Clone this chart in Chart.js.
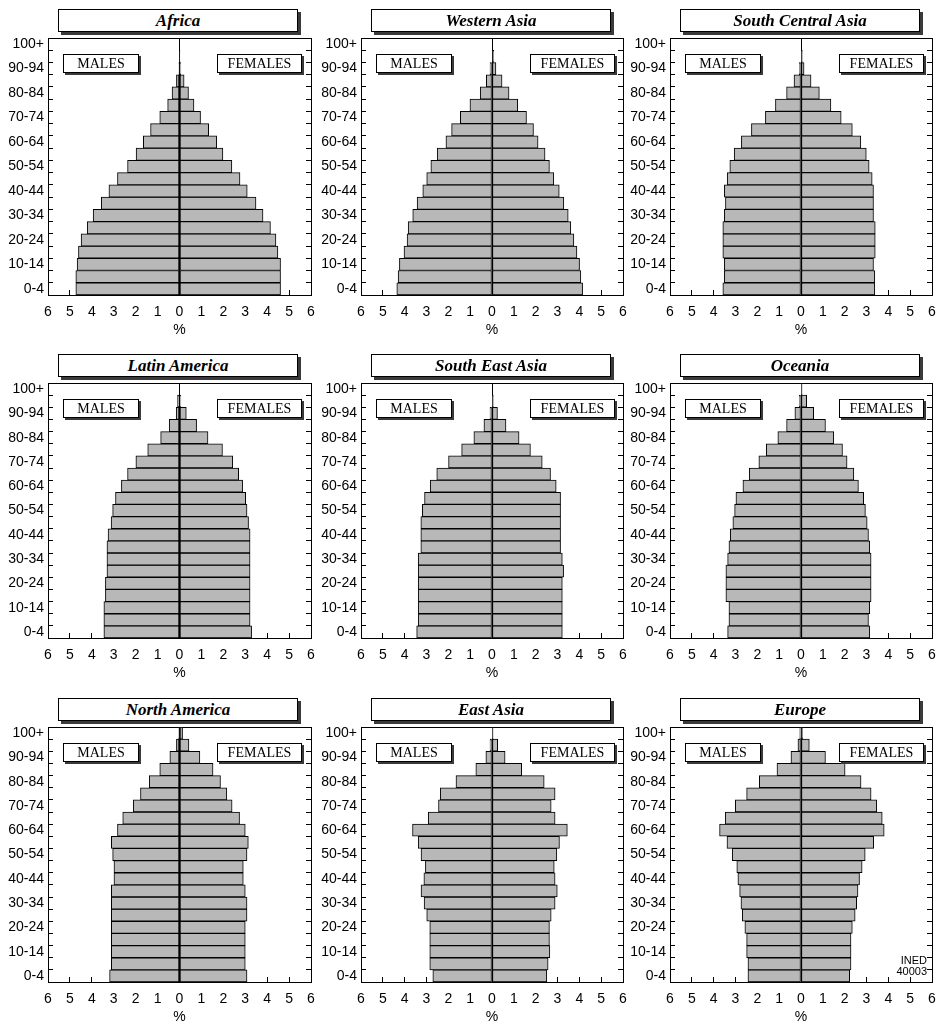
<!DOCTYPE html>
<html lang="en">
<head>
    <meta charset="UTF-8">
    <title>Population pyramids by region</title>
    <script src="https://cdn.jsdelivr.net/npm/chart.js"></script>
    <style>
        body { margin: 0; background: #fff; }
        #page { position: relative; width: 938px; height: 1025px; overflow: hidden; }
        #page canvas { position: absolute; }
        .titleBox {
            position: absolute; width: 238px; height: 21px;
            border: 1px solid #000; background: #fff;
            box-shadow: 3px 3px 0 #3a3a3a;
            font-family: "Liberation Serif", "Times New Roman", serif;
            font-style: italic; font-weight: bold; font-size: 17px;
            text-align: center; line-height: 22px;
        }
        .sexBox {
            position: absolute; height: 17px;
            border: 1px solid #000; background: #fff;
            box-shadow: 2px 2px 0 #3a3a3a;
            font-family: "Liberation Serif", "Times New Roman", serif;
            font-size: 14px;
            text-align: center; line-height: 18px;
        }
        .ined {
            position: absolute; width: 60px; text-align: right;
            font-family: "Liberation Sans", Arial, sans-serif;
            font-size: 11px; line-height: 11px;
        }
    </style>
</head>
<body>
<div id="page"></div>

<script>
    // age groups, bottom to top
    const ageGroups = ['0-4', '5-9', '10-14', '15-19', '20-24', '25-29', '30-34', '35-39', '40-44', '45-49',
        '50-54', '55-59', '60-64', '65-69', '70-74', '75-79', '80-84', '85-89', '90-94', '95-99', '100+'];

    // % of total population per age group
    const africaMales = [4.73, 4.73, 4.67, 4.61, 4.49, 4.21, 3.94, 3.57, 3.22, 2.83, 2.37, 1.98, 1.65, 1.32, 0.90, 0.54, 0.34, 0.14, 0.03, 0, 0];
    const africaFemales = [4.61, 4.61, 4.61, 4.49, 4.40, 4.15, 3.81, 3.49, 3.09, 2.76, 2.39, 1.98, 1.70, 1.33, 0.96, 0.66, 0.41, 0.21, 0.06, 0.02, 0];

    const westAsiaMales = [4.36, 4.30, 4.24, 4.03, 3.89, 3.84, 3.63, 3.43, 3.17, 2.99, 2.80, 2.51, 2.11, 1.85, 1.45, 1.01, 0.54, 0.26, 0.09, 0, 0];
    const westAsiaFemales = [4.15, 4.07, 4.01, 3.89, 3.75, 3.61, 3.49, 3.29, 3.08, 2.83, 2.63, 2.43, 2.11, 1.90, 1.58, 1.18, 0.78, 0.46, 0.18, 0.08, 0];

    const southCentralMales = [3.58, 3.51, 3.51, 3.58, 3.58, 3.58, 3.51, 3.46, 3.51, 3.38, 3.26, 3.06, 2.73, 2.27, 1.63, 1.17, 0.66, 0.32, 0.08, 0, 0];
    const southCentralFemales = [3.38, 3.38, 3.32, 3.40, 3.40, 3.40, 3.32, 3.32, 3.32, 3.26, 3.12, 2.99, 2.74, 2.35, 1.84, 1.37, 0.84, 0.46, 0.14, 0.06, 0];

    const latinMales = [3.45, 3.45, 3.45, 3.38, 3.38, 3.31, 3.31, 3.31, 3.26, 3.12, 3.05, 2.92, 2.65, 2.37, 1.99, 1.45, 0.86, 0.47, 0.15, 0.09, 0];
    const latinFemales = [3.29, 3.22, 3.22, 3.22, 3.22, 3.22, 3.22, 3.22, 3.22, 3.15, 3.08, 3.02, 2.88, 2.70, 2.43, 1.96, 1.30, 0.78, 0.31, 0.06, 0];

    const southEastMales = [3.45, 3.38, 3.38, 3.38, 3.38, 3.38, 3.38, 3.26, 3.26, 3.26, 3.19, 3.09, 2.83, 2.53, 1.99, 1.39, 0.83, 0.37, 0.09, 0, 0];
    const southEastFemales = [3.22, 3.22, 3.22, 3.22, 3.22, 3.28, 3.22, 3.14, 3.14, 3.14, 3.14, 3.14, 2.94, 2.68, 2.30, 1.76, 1.24, 0.64, 0.25, 0.06, 0];

    const oceaniaMales = [3.36, 3.30, 3.30, 3.44, 3.44, 3.44, 3.36, 3.30, 3.24, 3.12, 3.04, 2.98, 2.66, 2.37, 1.93, 1.59, 1.06, 0.66, 0.28, 0.08, 0];
    const oceaniaFemales = [3.15, 3.09, 3.15, 3.21, 3.21, 3.21, 3.21, 3.15, 3.09, 3.03, 2.95, 2.87, 2.63, 2.42, 2.11, 1.90, 1.50, 1.12, 0.58, 0.26, 0.05];

    const northAmMales = [3.19, 3.11, 3.11, 3.11, 3.11, 3.11, 3.11, 3.11, 2.99, 2.99, 3.05, 3.11, 2.83, 2.59, 2.11, 1.78, 1.38, 0.90, 0.44, 0.14, 0.04];
    const northAmFemales = [3.08, 3.00, 3.00, 3.00, 3.00, 3.08, 3.08, 3.00, 2.91, 2.91, 3.08, 3.14, 3.00, 2.74, 2.40, 2.16, 1.87, 1.53, 0.93, 0.43, 0.14];

    const eastAsiaMales = [2.71, 2.85, 2.85, 2.85, 2.85, 2.99, 3.11, 3.25, 3.12, 3.05, 3.25, 3.38, 3.64, 2.92, 2.45, 2.37, 1.65, 0.74, 0.28, 0.09, 0];
    const eastAsiaFemales = [2.51, 2.57, 2.65, 2.63, 2.63, 2.71, 2.89, 2.99, 2.89, 2.85, 2.97, 3.09, 3.45, 2.89, 2.71, 2.89, 2.39, 1.36, 0.60, 0.26, 0.05];

    const europeMales = [2.43, 2.43, 2.49, 2.49, 2.57, 2.69, 2.75, 2.81, 2.89, 2.94, 3.15, 3.39, 3.73, 3.47, 3.01, 2.49, 1.91, 1.10, 0.46, 0.14, 0.06];
    const europeFemales = [2.23, 2.29, 2.29, 2.29, 2.35, 2.48, 2.55, 2.61, 2.68, 2.80, 2.94, 3.33, 3.81, 3.72, 3.47, 3.21, 2.75, 2.02, 1.12, 0.38, 0.08];

    const regionNames = ['Africa', 'Western Asia', 'South Central Asia', 'Latin America', 'South East Asia',
        'Oceania', 'North America', 'East Asia', 'Europe'];
    const malesByRegion = [africaMales, westAsiaMales, southCentralMales, latinMales, southEastMales,
        oceaniaMales, northAmMales, eastAsiaMales, europeMales];
    const femalesByRegion = [africaFemales, westAsiaFemales, southCentralFemales, latinFemales, southEastFemales,
        oceaniaFemales, northAmFemales, eastAsiaFemales, europeFemales];

    // page layout (plot area of each panel)
    const plotLeft = [48, 361, 670];
    const plotWidth = [263, 262, 262];
    const plotTop = [38, 383, 727];
    const plotHeight = [257, 255, 255];
    const axisWidth = 48;
    const xAxisHeight = 44;
    const barFill = '#b8b8b8';

    Chart.defaults.font.family = '"Liberation Sans", Arial, sans-serif';
    Chart.defaults.font.size = 14;
    Chart.defaults.color = '#000';

    const page = document.getElementById('page');

    function addBox(cls, text, left, top, width) {
        const d = document.createElement('div');
        d.className = cls;
        d.textContent = text;
        d.style.left = left + 'px';
        d.style.top = top + 'px';
        if (width) d.style.width = width + 'px';
        page.appendChild(d);
        return d;
    }

    regionNames.forEach((name, i) => {
        const col = i % 3;
        const row = Math.floor(i / 3);
        const pl = plotLeft[col], pt = plotTop[row];

        const canvas = document.createElement('canvas');
        canvas.width = axisWidth + plotWidth[col] + 8;
        canvas.height = 3 + plotHeight[row] + xAxisHeight;
        canvas.style.left = (pl - axisWidth) + 'px';
        canvas.style.top = (pt - 3) + 'px';
        page.appendChild(canvas);

        new Chart(canvas, {
            type: 'bar',
            data: {
                labels: ageGroups,
                datasets: [
                    {
                        label: 'Males',
                        data: malesByRegion[i].map(v => -v),
                        backgroundColor: barFill, borderColor: '#000', borderWidth: 1, borderSkipped: false
                    },
                    {
                        label: 'Females',
                        data: femalesByRegion[i],
                        backgroundColor: barFill, borderColor: '#000', borderWidth: 1, borderSkipped: false
                    }
                ]
            },
            options: {
                indexAxis: 'y',
                responsive: false,
                animation: false,
                events: [],
                layout: { padding: { top: 3, left: 0, right: 0, bottom: 0 } },
                plugins: { legend: { display: false }, tooltip: { enabled: false } },
                datasets: { bar: { categoryPercentage: 1, barPercentage: 1 } },
                scales: {
                    x: {
                        type: 'linear', position: 'bottom', stacked: true, min: -6, max: 6,
                        ticks: { stepSize: 1, maxRotation: 0, padding: 14, callback: v => Math.abs(v) },
                        grid: {
                            tickLength: -5, tickColor: '#000',
                            color: c => (c.tick && c.tick.value === 0) ? '#000' : 'rgba(0,0,0,0)'
                        },
                        border: { display: true, color: '#000' },
                        title: { display: true, text: '%', padding: { top: 0, bottom: 0 } },
                        afterFit: s => { s.height = xAxisHeight; s.paddingLeft = 0; s.paddingRight = 0; }
                    },
                    x2: {
                        type: 'linear', position: 'top', min: -6, max: 6,
                        ticks: { display: false },
                        grid: { drawOnChartArea: false, drawTicks: false },
                        border: { display: true, color: '#000' },
                        afterFit: s => { s.height = 0; s.paddingLeft = 0; s.paddingRight = 0; }
                    },
                    y: {
                        type: 'category', position: 'left', stacked: true, reverse: true, offset: true,
                        ticks: { autoSkip: false, padding: 9, callback: v => (v % 2 === 0 ? ageGroups[v] : '') },
                        grid: { offset: true, drawOnChartArea: false, tickLength: -5, color: '#000' },
                        border: { display: true, color: '#000' },
                        afterFit: s => { s.width = axisWidth; s.paddingTop = 0; s.paddingBottom = 0; }
                    },
                    y2: {
                        type: 'category', position: 'right', reverse: true, offset: true,
                        ticks: { display: false },
                        grid: { offset: true, drawOnChartArea: false, tickLength: -5, color: '#000' },
                        border: { display: true, color: '#000' },
                        afterFit: s => { s.width = 8; s.paddingTop = 0; s.paddingBottom = 0; }
                    }
                }
            }
        });

        addBox('titleBox', name, pl + 10, pt - 29);
        addBox('sexBox', 'MALES', pl + 15, pt + 16, 74);
        addBox('sexBox', 'FEMALES', pl + 169, pt + 16, 83);
    });

    // source note, bottom right of the last panel
    const note = addBox('ined', '', 867, 955);
    note.innerHTML = 'INED<br>40003';
</script>
</body>
</html>
